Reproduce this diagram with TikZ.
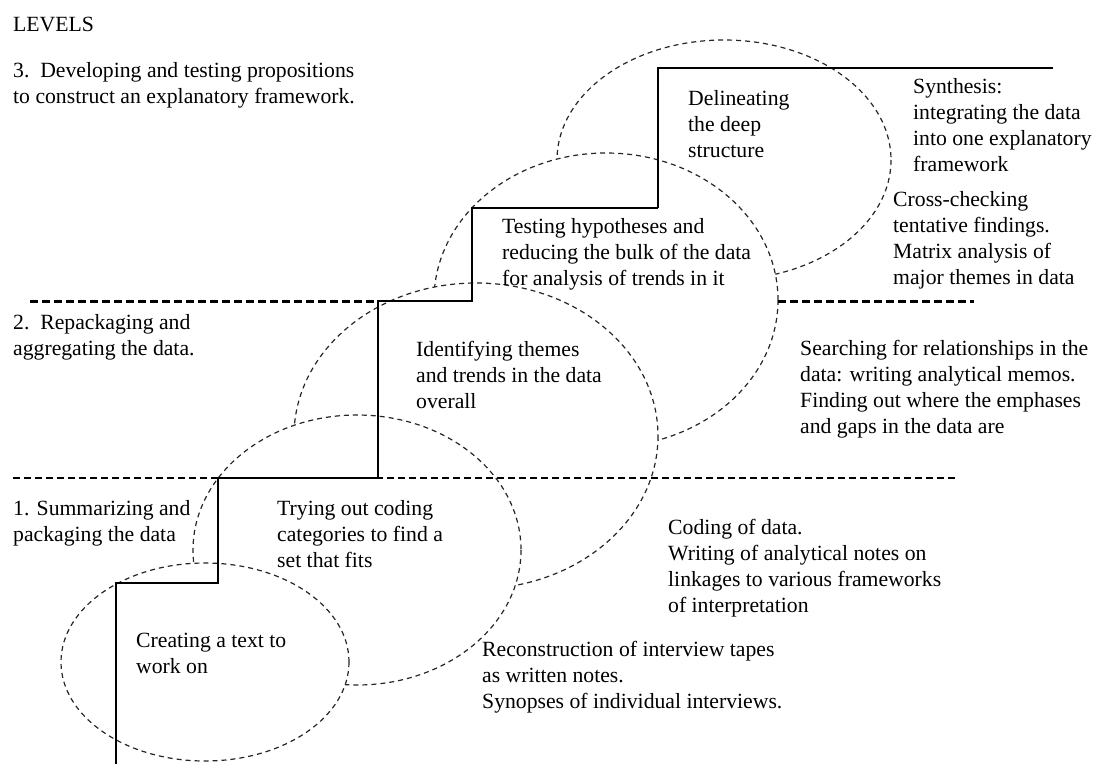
\documentclass[tikz,border=0pt]{standalone}
\usepackage{fontspec}
\setmainfont{Liberation Serif}
% left-aligned block whose baseline is that of its first line
\newcommand\blk[1]{\begin{tabular}[t]{@{}l@{}}#1\end{tabular}}
\begin{document}
\begin{tikzpicture}[x=1pt,y=-1pt,
  every node/.style={inner sep=0pt, anchor=base west,
    font=\fontsize{21.7}{26}\selectfont},
  phase/.style={draw=black!85, fill=white, line width=1.2pt,
    dash pattern=on 5pt off 4pt},
  stairline/.style={line width=2pt},
  lvlthin/.style={line width=1.3pt, dash pattern=on 7pt off 4pt},
  lvlbold/.style={line width=3pt, dash pattern=on 8pt off 4pt}]
\useasboundingbox (0,0) rectangle (1093,764);

% overlapping phase ellipses, upper ones first so lower ones cover them
\draw[phase] (724,160) ellipse [x radius=167, y radius=120];
\draw[phase] (606,300) ellipse [x radius=172, y radius=147];
\draw[phase] (476,436) ellipse [x radius=182, y radius=153];
\draw[phase] (357,550) ellipse [x radius=164, y radius=135];
\draw[phase] (205,662) ellipse [x radius=144, y radius=99];

% level boundaries
\draw[lvlthin] (13,478) -- (957,478);
\draw[lvlbold] (30,301) -- (378,301);
\draw[lvlbold] (778,301) -- (974,301);

% staircase
\coordinate (s0) at (116,764);
\coordinate (s1) at (218,583);
\coordinate (s2) at (378,478);
\coordinate (s3) at (472,301);
\coordinate (s4) at (658,208);
\coordinate (s5) at (1053,68);
\draw[stairline] (s0) |- (s1) |- (s2) |- (s3) |- (s4);
\draw[stairline, line width=2.5pt] (s4) |- (s5);

% texts
\node (levels) at (13,31) {LEVELS};
\node (lv3) at (13,77) {\blk{3.\ \ Developing and testing propositions\\to construct an explanatory framework.}};
\node (lv2) at (13,329) {\blk{2.\ \ Repackaging and\\aggregating the data.}};
\node (lv1) at (13,515) {\blk{1. Summarizing and\\packaging the data}};
\node (create) at (136,647) {\blk{Creating a text to\\work on}};
\node (trying) at (277,515) {\blk{Trying out coding\\categories to find a\\set that fits}};
\node (identify) at (416,356) {\blk{Identifying themes\\and trends in the data\\overall}};
\node (testing) at (502,233) {\blk{Testing hypotheses and\\reducing the bulk of the data\\for analysis of trends in it}};
\node (delin) at (688,105) {\blk{Delineating\\the deep\\structure}};
\node (synth) at (913,93) {\blk{Synthesis:\\integrating the data\\into one explanatory\\framework}};
\node (cross) at (893,206) {\blk{Cross-checking\\tentative findings.\\Matrix analysis of\\major themes in data}};
\node (search) at (800,355) {\blk{Searching for relationships in the\\data: writing analytical memos.\\Finding out where the emphases\\and gaps in the data are}};
\node (coding) at (668,534) {\blk{Coding of data.\\Writing of analytical notes on\\linkages to various frameworks\\of interpretation}};
\node (recon) at (482,656) {\blk{Reconstruction of interview tapes\\as written notes.\\Synopses of individual interviews.}};
\end{tikzpicture}
\end{document}
